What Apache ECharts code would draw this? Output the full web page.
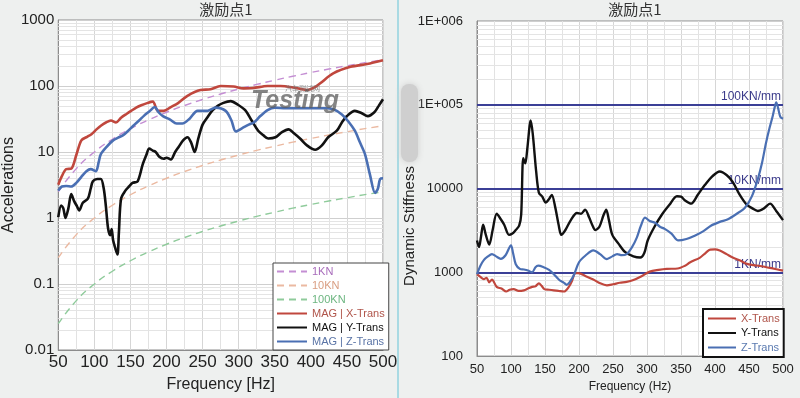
<!DOCTYPE html>
<html><head><meta charset="utf-8">
<script src="https://cdn.jsdelivr.net/npm/echarts@6/dist/echarts.min.js"></script>
<style>html,body{margin:0;padding:0;background:#eef0ef;}#c{width:800px;height:398px;}</style>
</head><body><div id="c"></div>
<script>
// ---------- data ----------
const titleText = '激励点1';
const leftYTickLabels = ['0.01', '0.1', '1', '10', '100', '1000'];
const rightYTickLabels = ['100', '1000', '10000', '1E+005', '1E+006'];
const xTicks = [50, 100, 150, 200, 250, 300, 350, 400, 450, 500];

// reference constant-stiffness curves (Accelerations)
const refFreq = [50, 75, 100, 125, 150, 175, 200, 225, 250, 275, 300, 325, 350, 375, 400, 425, 450, 475, 500];
const ref1KN = [2.5, 5.6, 10, 15.6, 22.5, 30.6, 40, 50.6, 62.5, 75.6, 90, 105.6, 122.5, 140.6, 160, 180.6, 202.5, 225.6, 250];
const ref10KN = [0.25, 0.56, 1.0, 1.56, 2.25, 3.06, 4.0, 5.06, 6.25, 7.56, 9.0, 10.6, 12.25, 14.1, 16, 18.1, 20.25, 22.6, 25];
const ref100KN = [0.025, 0.056, 0.1, 0.156, 0.225, 0.306, 0.4, 0.506, 0.625, 0.756, 0.9, 1.06, 1.225, 1.41, 1.6, 1.81, 2.025, 2.26, 2.5];

// measured accelerations [Hz, value]
const accX = [[50,3.2],[55,4.3],[61,5.5],[68,5.6],[75,9],[82,15],[90,17],[96,18.6],[103,22],[109,25],[116,28],[123,30],[130,28],[137,33],[145,38],[151,42],[158,47],[165,51],[173,55],[181,58],[188,42],[196,42],[206,48],[216,55],[229,71],[247,87],[261,89],[275,100],[293,98],[307,92],[320,93],[340,100],[358,100],[376,95],[395,87],[405,95],[413,110],[431,155],[455,195],[478,215],[500,245]];
const accY = [[50,1.03],[54,1.55],[57,1.4],[60,1.0],[64,1.4],[68,2.3],[72,1.8],[76,1.5],[79,1.3],[84,1.7],[91,1.96],[95,2.8],[98,3.6],[104,3.9],[109,3.9],[113,2.8],[116,1.5],[119,0.7],[122,0.55],[124,0.68],[126,0.46],[129,0.35],[132,0.28],[134,0.6],[137,1.96],[143,2.6],[148,3.0],[153,3.4],[160,3.6],[167,6.5],[172,9],[176,11.3],[181,10.5],[185,10],[190,8.5],[196,7.9],[200,8.2],[206,7.7],[212,10],[217,12],[223,15],[229,16.7],[234,14],[239,10],[244,16],[250,26],[257,34],[264,43],[271,50],[278,55],[289,59],[299,52],[309,43],[318,30],[327,21],[334,18],[341,16],[351,16.7],[360,20],[369,22],[377,19],[385,16],[395,12.5],[406,10.8],[415,12.5],[424,16.7],[436,21],[443,28],[450,35],[461,42],[470,39],[479,35],[488,40],[494,50],[500,63]];
const accZ = [[50,2.6],[55,3.0],[61,3.05],[68,3.0],[75,3.4],[82,4.2],[89,5.1],[95,5.5],[102,5.1],[106,7],[109,9.3],[117,12],[126,15],[133,16.5],[140,18],[147,21],[154,25],[162,30],[169,35.6],[176,41],[184,48],[189,40],[195,35],[205,31],[214,27],[222,27],[232,32],[243,42],[257,42],[268,47],[282,42],[290,30],[296,20.5],[305,23],[314,26],[321,28],[330,35],[340,43],[350,47],[365,46],[380,46],[400,46],[420,46],[432,44],[443,37],[452,29],[461,21],[468,14],[475,9.3],[482,4.5],[489,2.4],[493,2.8],[496,3.9],[500,4.0]];

// dynamic stiffness [Hz, N/mm]
const stiffX = [[50,950],[55,880],[60,830],[64,860],[68,760],[72,820],[79,670],[86,640],[93,590],[98,620],[104,630],[111,600],[119,610],[125,640],[131,670],[136,680],[141,740],[145,690],[149,630],[156,620],[163,610],[170,600],[178,590],[185,670],[190,800],[194,970],[199,980],[210,900],[221,820],[231,740],[241,700],[250,720],[260,750],[270,770],[280,810],[292,900],[304,1020],[317,1070],[329,1100],[345,1110],[356,1200],[363,1310],[378,1500],[386,1700],[393,1870],[400,1880],[407,1820],[417,1650],[426,1500],[437,1380],[447,1260],[457,1220],[466,1190],[483,1120],[500,1050]];
const stiffY = [[50,2400],[53,2000],[56,2700],[59,3700],[63,2800],[68,2140],[73,3200],[79,5000],[85,4300],[90,3700],[97,2800],[102,2900],[107,3200],[112,3600],[115,4900],[118,23000],[121,20000],[124,30000],[129,65000],[132,45000],[137,16000],[141,8900],[146,8000],[151,6800],[156,7500],[160,8400],[165,6000],[170,3700],[174,2800],[180,3200],[188,4200],[197,5100],[203,5000],[209,5600],[215,4500],[220,3600],[224,3200],[230,3500],[236,4800],[240,5600],[244,4200],[249,2800],[258,2200],[268,1740],[280,1550],[290,1500],[296,1700],[301,2400],[311,3500],[322,4900],[333,6400],[344,8100],[350,8000],[356,7200],[365,6600],[375,8500],[385,11000],[396,14000],[407,16000],[417,14500],[426,12000],[436,8500],[446,6500],[455,5800],[463,5400],[472,5800],[481,6600],[490,5400],[500,4200]];
const stiffZ = [[50,950],[55,1200],[60,1400],[66,1550],[72,1650],[78,1550],[85,1450],[92,1600],[100,2100],[103,1700],[107,1250],[113,1100],[119,1080],[125,1050],[131,1000],[136,1150],[140,1200],[148,1150],[156,1070],[163,950],[171,810],[177,760],[182,710],[188,800],[193,950],[200,1320],[210,1600],[221,1830],[231,1650],[241,1440],[249,1550],[256,1650],[263,1600],[270,1650],[278,2000],[285,2600],[291,3600],[297,4500],[304,4100],[312,3900],[319,3500],[326,3300],[336,2900],[346,2400],[358,2500],[371,2750],[383,3100],[394,3600],[407,4000],[419,4300],[432,5000],[444,5900],[454,8000],[463,13000],[469,20000],[475,35000],[480,52000],[485,74000],[488,95000],[490,107000],[493,90000],[496,72000],[500,68000]];

const refStiffValues = [1000, 10000, 100000];
const refStiffNames = ['1KN/mm', '10KN/mm', '100KN/mm'];

const leftNames = ['1KN', '10KN', '100KN', 'MAG | X-Trans', 'MAG | Y-Trans', 'MAG | Z-Trans'];
const rightNames = ['X-Trans', 'Y-Trans', 'Z-Trans'];

// ---------- styles ----------
const C = {
  red: '#c0473d', black: '#111111', blue: '#4a6fb3',
  k1: '#c48ed3', k10: '#ebb9a1', k100: '#8fcb9b', ref: '#3b3f96'
};
const F = "'Liberation Sans', Arial, sans-serif";

function minorVals(lo, hi) {
  const out = [];
  for (let d = lo; d < hi; d++) for (let m = 2; m <= 9; m++) out.push({ yAxis: m * Math.pow(10, d) });
  return out;
}
function gridSeries(xi, lo, hi) {
  return {
    type: 'line', xAxisIndex: xi, yAxisIndex: xi, data: [], z: 1, silent: true,
    markLine: { z: 1, silent: true, symbol: ['none', 'none'], animation: false, label: { show: false },
      lineStyle: { color: '#e4e4e4', width: 1, type: 'solid' }, data: minorVals(lo, hi) }
  };
}
function xAxisCfg(gi, fs, nfs, name, gap, margin) {
  return {
    type: 'value', gridIndex: gi, min: 50, max: 500, interval: 50,
    name: name, nameLocation: 'middle', nameGap: gap,
    nameTextStyle: { fontSize: nfs, fontFamily: F, color: '#222' },
    axisLine: { show: true, lineStyle: { color: '#8c8c8c' } },
    axisTick: { show: false },
    axisLabel: { fontSize: fs, fontFamily: F, color: '#222', margin: margin },
    splitLine: { show: true, lineStyle: { color: '#d6d6d6' } },
    minorTick: { show: false, splitNumber: 2 },
    minorSplitLine: { show: true, lineStyle: { color: '#e2e2e2' } }
  };
}
const refSeries = (name, arr, color) => ({
  name: name, type: 'line', xAxisIndex: 0, yAxisIndex: 0, smooth: true, symbol: 'none', z: 3,
  lineStyle: { color: color, width: 1.4, type: [7, 5] }, itemStyle: { color: color },
  data: refFreq.map((f, i) => [f, arr[i]])
});
const meas = (name, arr, color, idx, w) => ({
  name: name, type: 'line', xAxisIndex: idx, yAxisIndex: idx, smooth: 0.3, symbol: 'none', z: 4,
  lineStyle: { color: color, width: w }, itemStyle: { color: color }, data: arr
});

const chart = echarts.init(document.getElementById('c'));
chart.setOption({
  animation: false,
  backgroundColor: '#eef0ef',
  title: [
    { text: titleText, left: 221, top: -3, textAlign: 'center', textStyle: { fontSize: 15, fontWeight: 'normal', color: '#333', fontFamily: "'Noto Sans CJK SC', sans-serif" } },
    { text: titleText, left: 630, top: -3, textAlign: 'center', textStyle: { fontSize: 15, fontWeight: 'normal', color: '#333', fontFamily: "'Noto Sans CJK SC', sans-serif" } }
  ],
  grid: [
    { left: 57, top: 20, width: 326, height: 338, show: true, backgroundColor: '#ffffff', borderColor: '#8c8c8c', borderWidth: 1 },
    { left: 477, top: 21, width: 306, height: 339, show: true, backgroundColor: '#ffffff', borderColor: '#8c8c8c', borderWidth: 1 }
  ],
  xAxis: [
    xAxisCfg(0, 17, 16, 'Frequency [Hz]', 27, 4),
    xAxisCfg(1, 13, 12, 'Frequency (Hz)', 23, 7)
  ],
  yAxis: [
    {
      type: 'log', logBase: 10, gridIndex: 0, min: 0.01, max: 1000,
      name: 'Accelerations', nameLocation: 'middle', nameGap: 40,
      nameTextStyle: { fontSize: 16, fontFamily: F, color: '#222' },
      axisLine: { show: true, lineStyle: { color: '#8c8c8c' } }, axisTick: { show: false },
      axisLabel: { fontSize: 15, fontFamily: F, color: '#222', margin: 4,
        formatter: v => leftYTickLabels[Math.round(Math.log10(v)) + 2] },
      splitLine: { show: true, lineStyle: { color: '#cfcfcf' } }
    },
    {
      type: 'log', logBase: 10, gridIndex: 1, min: 100, max: 1000000,
      axisLine: { show: true, lineStyle: { color: '#8c8c8c' } }, axisTick: { show: false },
      axisLabel: { fontSize: 13, fontFamily: F, color: '#222', margin: 14,
        formatter: v => rightYTickLabels[Math.round(Math.log10(v)) - 2] },
      splitLine: { show: true, lineStyle: { color: '#cfcfcf' } }
    }
  ],
  legend: [
    {
      orient: 'vertical', left: 273, top: 263,
      data: leftNames.map((n, i) => ({ name: n, textStyle: { color: ['#a86cbb', '#d99e82', '#6db681', '#b0554b', '#111', '#5a74a6'][i] } })),
      itemWidth: 30, itemHeight: 12, itemGap: 3, padding: [3, 4, 3, 3],
      itemStyle: { opacity: 0 },
      backgroundColor: '#ffffff', borderColor: '#444', borderWidth: 1,
      textStyle: { fontSize: 11, fontFamily: F }
    },
    {
      orient: 'vertical', left: 703, top: 309,
      data: rightNames.map((n, i) => ({ name: n, textStyle: { color: ['#b0554b', '#111', '#5a7ab0'][i] } })),
      itemWidth: 28, itemHeight: 12, itemGap: 3.5, padding: [4, 4, 4, 4],
      itemStyle: { opacity: 0 },
      backgroundColor: '#ffffff', borderColor: '#111', borderWidth: 2,
      textStyle: { fontSize: 11, fontFamily: F }
    }
  ],
  graphic: [
    { type: 'line', shape: { x1: 398, y1: 0, x2: 398, y2: 398 }, style: { stroke: '#a9dae3', lineWidth: 2 }, z: 100 },
    { type: 'rect', shape: { x: 401, y: 84, width: 17, height: 78, r: 8 }, style: { fill: '#cfcfcf', shadowBlur: 6, shadowColor: '#cfcfcf' }, z: 100 },
    { type: 'text', x: 410, y: 226, rotation: Math.PI / 2, z: 100,
      style: { text: 'Dynamic Stiffness', align: 'center', verticalAlign: 'middle', font: "15px 'Liberation Sans', Arial", fill: '#222' } },
    { type: 'text', x: 251, y: 89, z: 100,
      style: { text: 'Testing', font: "italic bold 25px 'Liberation Sans', Arial", fill: '#5c5c5c', opacity: 0.75 } },
    { type: 'text', x: 285, y: 85, z: 100,
      style: { text: '汽车测试网', font: "7px 'Noto Sans CJK SC'", fill: '#777', opacity: 0.8 } }
  ],
  series: [
    gridSeries(0, -2, 3),
    gridSeries(1, 2, 6),
    {
      type: 'line', xAxisIndex: 1, yAxisIndex: 1, data: [], z: 2, silent: true,
      markLine: { z: 2, silent: true, symbol: ['none', 'none'], animation: false,
        lineStyle: { color: C.ref, width: 2, type: 'solid' },
        label: { show: true, position: 'insideEndTop', formatter: '{b}', color: '#3a3a8a', fontSize: 12, fontFamily: F, distance: 2 },
        data: refStiffValues.map((v, i) => ({ yAxis: v, name: refStiffNames[i] })) }
    },
    refSeries('1KN', ref1KN, C.k1),
    refSeries('10KN', ref10KN, C.k10),
    refSeries('100KN', ref100KN, C.k100),
    meas('MAG | X-Trans', accX, C.red, 0, 2.6),
    meas('MAG | Y-Trans', accY, C.black, 0, 2.6),
    meas('MAG | Z-Trans', accZ, C.blue, 0, 2.6),
    meas('X-Trans', stiffX, C.red, 1, 2.2),
    meas('Y-Trans', stiffY, C.black, 1, 2.4),
    meas('Z-Trans', stiffZ, C.blue, 1, 2.2)
  ]
});
</script></body></html>
